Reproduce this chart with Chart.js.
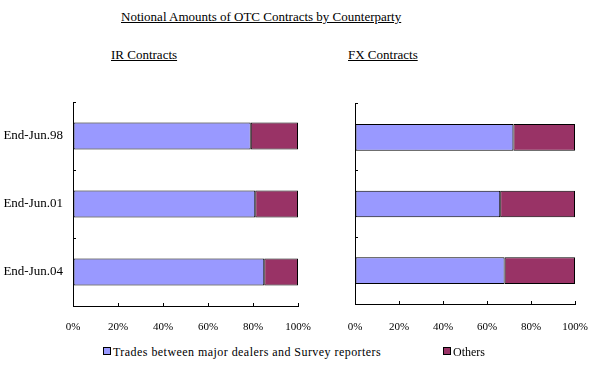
<!DOCTYPE html>
<html lang="en">
<head>
  <meta charset="UTF-8" />
  <title>Notional Amounts of OTC Contracts by Counterparty</title>
  <script src="https://cdn.jsdelivr.net/npm/chart.js"></script>
  <style>
    body {
      margin: 0;
      width: 592px;
      height: 369px;
      background: #fff;
      position: relative;
      overflow: hidden;
      font-family: "Liberation Serif", "Times New Roman", serif;
      color: #000;
    }
    .lbl {
      position: absolute;
      text-decoration: underline;
      white-space: nowrap;
    }
    canvas { position: absolute; }
    .legend {
      position: absolute;
      top: 345px;
      font-size: 12px;
      white-space: nowrap;
    }
    .sw {
      display: inline-block;
      width: 6px;
      height: 6px;
      border: 1px solid #000;
      margin-right: 2px;
      vertical-align: 1px;
    }
  </style>
</head>
<body>
  <div class="lbl" style="left:121px; top:9px; font-size:13px;">Notional Amounts of OTC Contracts by Counterparty</div>
  <div class="lbl" style="left:111px; top:47px; font-size:13px;">IR Contracts</div>
  <div class="lbl" style="left:348px; top:47px; font-size:13px;">FX Contracts</div>

  <canvas id="irChart" width="320" height="250" style="left:0; top:90px;"></canvas>
  <canvas id="fxChart" width="292" height="250" style="left:300px; top:90px;"></canvas>

  <div class="legend" style="left:103px; letter-spacing:0.45px;"><span class="sw" style="background:#9999FF"></span>Trades between major dealers and Survey reporters</div>
  <div class="legend" style="left:443px;"><span class="sw" style="background:#993366"></span>Others</div>

  <script>
    const categories = ['End-Jun.98', 'End-Jun.01', 'End-Jun.04'];
    const seriesNames = ['Trades between major dealers and Survey reporters', 'Others'];
    const irDealers = [79, 81, 85];
    const irOthers = [21, 19, 15];
    const fxDealers = [72, 66, 68];
    const fxOthers = [28, 34, 32];
    const xTicks = [0, 20, 40, 60, 80, 100];

    const blue = '#9999FF';
    const purple = '#993366';
    const font = { family: "'Liberation Serif', 'Times New Roman', serif", size: 11 };

    function drawChart(canvasId, dealers, others, opts) {
      const ctx = document.getElementById(canvasId).getContext('2d');
      new Chart(ctx, {
        type: 'bar',
        data: {
          labels: categories,
          datasets: [
            { label: seriesNames[0], data: dealers, backgroundColor: blue, borderColor: '#000', borderWidth: 1, borderSkipped: false },
            { label: seriesNames[1], data: others, backgroundColor: purple, borderColor: '#000', borderWidth: 1, borderSkipped: false }
          ]
        },
        options: {
          indexAxis: 'y',
          responsive: false,
          animation: false,
          devicePixelRatio: 1,
          categoryPercentage: 1,
          barPercentage: 0.4,
          layout: { padding: { top: opts.top, right: opts.right, left: 0, bottom: 0 } },
          plugins: { legend: { display: false }, tooltip: { enabled: false } },
          scales: {
            x: {
              stacked: true,
              min: 0,
              max: 100,
              afterBuildTicks: s => { s.ticks = xTicks.map(v => ({ value: v })); },
              afterFit: s => { s.height = opts.xHeight; s.paddingLeft = 0; s.paddingRight = 0; },
              ticks: {
                color: '#000',
                font: font,
                padding: opts.xPad,
                maxRotation: 0,
                callback: v => v + '%'
              },
              grid: { drawOnChartArea: false, color: '#000', tickLength: -3 },
              border: { color: '#000', width: 1 }
            },
            y: {
              stacked: true,
              afterFit: s => { s.width = opts.yWidth; s.paddingTop = 0; s.paddingBottom = 0; },
              ticks: {
                color: '#000',
                font: { family: font.family, size: 13 },
                padding: 13,
                callback: (v, i) => opts.showCats ? categories[i] : ''
              },
              grid: { drawOnChartArea: false, color: '#000', tickLength: -3 },
              border: { color: '#000', width: 1 }
            }
          }
        }
      });
    }

    drawChart('irChart', irDealers, irOthers, { top: 12, right: 22, yWidth: 73, xHeight: 34, xPad: 18, showCats: true });
    drawChart('fxChart', fxDealers, fxOthers, { top: 14, right: 17, yWidth: 55, xHeight: 36, xPad: 20, showCats: false });
  </script>
</body>
</html>
